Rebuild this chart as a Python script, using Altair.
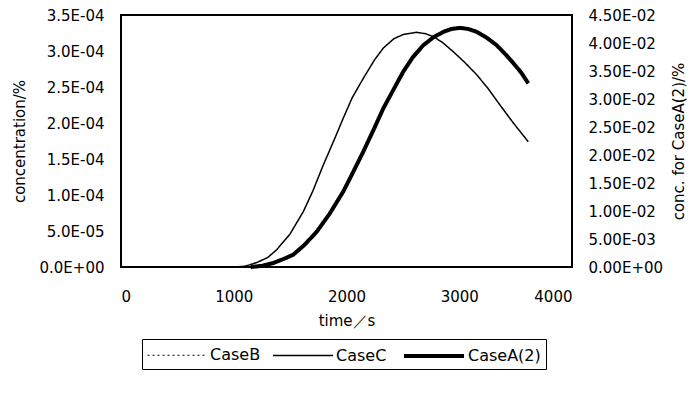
import altair as alt
import pandas as pd

series_names = ["CaseB", "CaseC", "CaseA(2)"]

# CaseC (left axis, %)
time_c = [1000, 1100, 1200, 1300, 1381, 1500, 1617, 1700, 1795, 1900, 1972, 2050, 2149,
          2250, 2326, 2420, 2504, 2622, 2700, 2770, 2850, 2947, 3050, 3155, 3260, 3361,
          3480, 3612]
conc_c = [0.0, 0.01e-4, 0.06e-4, 0.13e-4, 0.24e-4, 0.46e-4, 0.77e-4, 1.05e-4, 1.42e-4,
          1.80e-4, 2.07e-4, 2.35e-4, 2.62e-4, 2.88e-4, 3.04e-4, 3.17e-4, 3.23e-4, 3.26e-4,
          3.24e-4, 3.20e-4, 3.12e-4, 2.99e-4, 2.84e-4, 2.67e-4, 2.47e-4, 2.25e-4, 2.00e-4,
          1.74e-4]

# CaseA(2) (right axis, %)
time_a = [1150, 1250, 1350, 1450, 1528, 1630, 1736, 1850, 1972, 2060, 2149, 2240, 2326,
          2420, 2504, 2590, 2681, 2770, 2859, 2930, 3007, 3080, 3155, 3240, 3332, 3400,
          3480, 3550, 3612]
conc_a = [0.0, 0.02e-2, 0.07e-2, 0.15e-2, 0.22e-2, 0.40e-2, 0.63e-2, 0.95e-2, 1.35e-2,
          1.70e-2, 2.06e-2, 2.45e-2, 2.83e-2, 3.18e-2, 3.49e-2, 3.75e-2, 3.96e-2, 4.10e-2,
          4.20e-2, 4.25e-2, 4.27e-2, 4.25e-2, 4.20e-2, 4.10e-2, 3.96e-2, 3.82e-2, 3.64e-2,
          3.47e-2, 3.28e-2]

x_ticks = [0, 1000, 2000, 3000, 4000]
left_ticks = [0, 0.5e-4, 1.0e-4, 1.5e-4, 2.0e-4, 2.5e-4, 3.0e-4, 3.5e-4]
right_ticks = [0, 0.5e-2, 1.0e-2, 1.5e-2, 2.0e-2, 2.5e-2, 3.0e-2, 3.5e-2, 4.0e-2, 4.5e-2]

df_c = pd.DataFrame({"time": time_c, "value": conc_c, "series": "CaseC"})
df_a = pd.DataFrame({"time": time_a, "value": conc_a, "series": "CaseA(2)"})

FONT = "DejaVu Sans"

legend = alt.Legend(
    title=None, orient="none", legendX=21, legendY=324, direction="horizontal",
    values=series_names,
    symbolType="M-1,0H5", symbolSize=400, labelFontSize=16, labelFont=FONT,
    labelColor="black", strokeColor="black", padding=5, columnPadding=9,
    labelOffset=42, symbolOffset=0,
)

# shared domain; the spacer entries make the point-scale widths 1, 1.5 and 4 px
domain = ["CaseB", "CaseC", "_w2", "_w3", "_w4", "_w5", "CaseA(2)"]
n = len(domain)

color = alt.Color("series:N", scale=alt.Scale(domain=domain, range=["black"] * n), legend=legend)
dash = alt.StrokeDash("series:N", scale=alt.Scale(domain=domain, range=[[2, 3]] + [[1, 0]] * (n - 1)), legend=legend)
width = alt.StrokeWidth("series:N", scale=alt.Scale(type="point", domain=domain, range=[1, 4]), legend=legend)

x_enc = alt.X("time:Q", scale=alt.Scale(domain=[0, 4000], nice=False),
              axis=alt.Axis(values=x_ticks, title="time／s", grid=False, domain=False,
                            ticks=False, labelPadding=22, titlePadding=9, format="d"))

left = alt.Chart(df_c).mark_line().encode(
    x=x_enc,
    y=alt.Y("value:Q", scale=alt.Scale(domain=[0, 3.5e-4], nice=False, zero=True),
            axis=alt.Axis(values=left_ticks, title="concentration/%", orient="left", grid=False,
                          domain=False, ticks=False, labelPadding=17, titlePadding=12,
                          labelExpr="replace(replace(format(datum.value, '.1e'), 'e-', 'E-0'), 'e+', 'E+0')")),
    color=color, strokeDash=dash, strokeWidth=width,
)

right = alt.Chart(df_a).mark_line().encode(
    x=x_enc,
    y=alt.Y("value:Q", scale=alt.Scale(domain=[0, 4.5e-2], nice=False, zero=True),
            axis=alt.Axis(values=right_ticks, title="conc. for CaseA(2)/%", orient="right", grid=False,
                          domain=False, ticks=False, labelPadding=16, titlePadding=9, titleAngle=270,
                          titleBaseline="top",
                          labelExpr="replace(replace(format(datum.value, '.2e'), 'e-', 'E-0'), 'e+', 'E+0')")),
    color=color, strokeDash=dash, strokeWidth=width,
)

chart = alt.layer(left, right).resolve_scale(y="independent").properties(
    width=451, height=252,
    autosize=alt.AutoSizeParams(type="none"),
    padding={"left": 113, "top": 7, "right": 116, "bottom": 118},
).configure_view(stroke="black", strokeWidth=2).configure_axis(
    labelFont=FONT, labelFontSize=15, labelColor="black",
    titleFont=FONT, titleFontSize=15, titleColor="black", titleFontWeight="normal",
)

chart.save("out.html", embed_options={"renderer": "svg", "actions": False})
